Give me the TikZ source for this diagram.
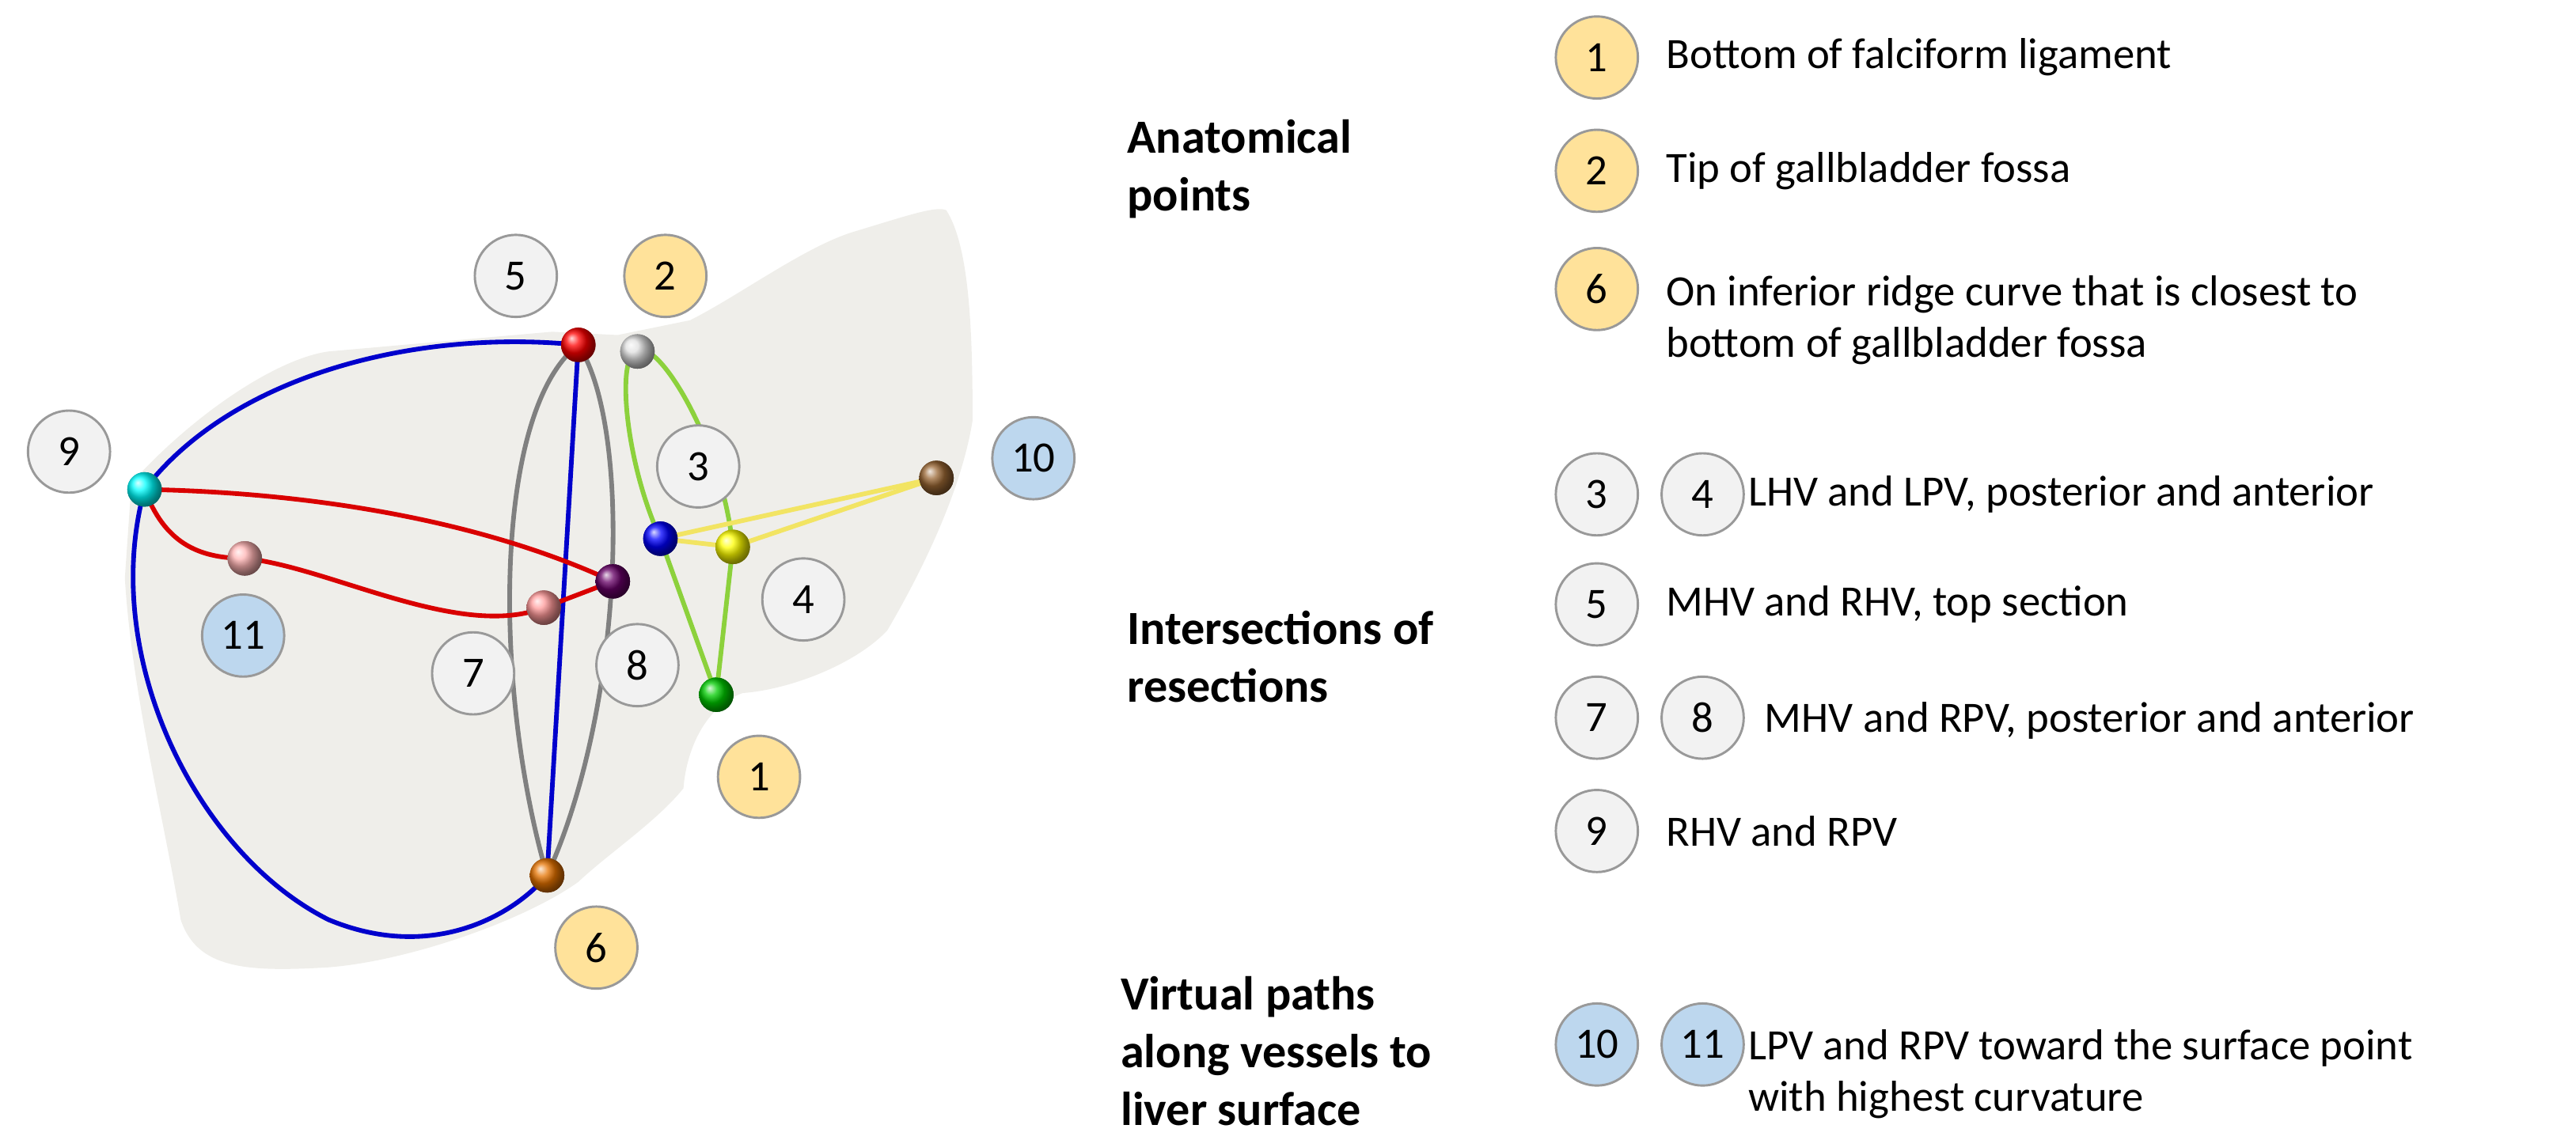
\documentclass[tikz,border=0pt]{standalone}
\usepackage{fontspec}
\setmainfont{Carlito}
\usetikzlibrary{positioning}
\definecolor{lblgray}{HTML}{F2F2F2}
\definecolor{lblyellow}{HTML}{FFE29A}
\definecolor{lblblue}{HTML}{BDD7EE}
\definecolor{liverfill}{HTML}{EFEEEA}
\definecolor{greenline}{HTML}{8CD13C}
\definecolor{yellowline}{HTML}{F2E463}
\tikzset{
    num/.style={circle, draw=gray!80, line width=0.8pt, inner sep=0pt, minimum size=1cm, font=\fontsize{15}{15}\selectfont},
    anat/.style={num, fill=lblyellow},
    inter/.style={num, fill=lblgray},
    virt/.style={num, fill=lblblue},
    ball/.style={circle, inner sep=0pt, minimum size=0.42cm, ball color=#1},
    desc/.style={anchor=west, align=left, font=\fontsize{15}{18}\selectfont},
    head/.style={anchor=west, align=left, font=\fontsize{16.5}{20}\selectfont\bfseries},
    path/.style={line width=1.6pt, line cap=round}
}
\begin{document}
\begin{tikzpicture}[x=0.02cm, y=-0.02cm]
    \useasboundingbox (0,0) rectangle (1568,694);

    % liver surface
    \fill[liverfill] (80,294) .. controls (120,250) and (170,218) .. (200,214)
        -- (336,202) -- (376,204) -- (420,195) .. controls (450,180) and (490,150) .. (520,141)
        .. controls (550,132) and (570,125) .. (576,128) .. controls (590,150) and (592,200) .. (592,256)
        .. controls (585,300) and (560,350) .. (540,384) .. controls (520,405) and (480,420) .. (452,422)
        .. controls (430,430) and (418,455) .. (416,480) .. controls (400,500) and (370,520) .. (352,537)
        .. controls (320,560) and (250,585) .. (200,589) .. controls (150,592) and (120,590) .. (110,560)
        .. controls (100,500) and (80,420) .. (76,352) -- cycle;

    % anatomical and intersection points
    \node[ball=red] (p5) at (352,210) {};
    \node[ball=gray!25] (p2) at (388,214) {};
    \node[ball=cyan] (p9) at (88,298) {};
    \node[ball=brown!80!black] (p10) at (570,291) {};
    \node[ball=blue] (p3) at (402,328) {};
    \node[ball=yellow] (p4) at (446,333) {};
    \node[ball=violet!80!black] (p8) at (373,354) {};
    \node[ball=red!30] (p11) at (149,340) {};
    \node[ball=red!40] (p7) at (331,370) {};
    \node[ball=green!80!black] (p1) at (436,423) {};
    \node[ball=orange!90!black] (p6) at (333,533) {};

    % resection curves
    \draw[path, gray] (p5.center) .. controls (300,250) and (300,420) .. (p6.center);
    \draw[path, gray] (p5.center) .. controls (385,260) and (380,430) .. (p6.center);
    \draw[path, blue!80!black] (p9.center) .. controls (140,230) and (250,200) .. (p5.center);
    \draw[path, blue!80!black] (p9.center) .. controls (60,400) and (120,520) .. (200,560)
        .. controls (260,585) and (310,560) .. (p6.center);
    \draw[path, blue!80!black] (p5.center) -- (p6.center);
    \draw[path, red!85!black] (p9.center) .. controls (200,300) and (300,320) .. (p8.center);
    \draw[path, red!85!black] (p9.center) .. controls (100,330) and (120,340) .. (p11.center)
        .. controls (200,345) and (280,390) .. (p7.center) -- (p8.center);
    \draw[path, greenline] (p2.center) .. controls (375,215) and (380,280) .. (p3.center) -- (p1.center);
    \draw[path, greenline] (p2.center) .. controls (400,205) and (440,270) .. (p4.center) -- (p1.center);
    \draw[path, yellowline] (p3.center) -- (p10.center);
    \draw[path, yellowline] (p4.center) -- (p10.center);
    \draw[path, yellowline] (p3.center) -- (p4.center);
    \foreach \p in {p5,p2,p9,p10,p3,p4,p8,p11,p7,p1,p6}
        \node[ball=white, opacity=0] at (\p) {};
    \node[ball=red] at (p5) {};
    \node[ball=gray!25] at (p2) {};
    \node[ball=cyan] at (p9) {};
    \node[ball=brown!80!black] at (p10) {};
    \node[ball=blue] at (p3) {};
    \node[ball=yellow] at (p4) {};
    \node[ball=violet!80!black] at (p8) {};
    \node[ball=red!30] at (p11) {};
    \node[ball=red!40] at (p7) {};
    \node[ball=green!80!black] at (p1) {};
    \node[ball=orange!90!black] at (p6) {};

    % labels on the liver
    \node[inter] (l5) at (314,168) {5};
    \node[anat] (l2) at (405,168) {2};
    \node[inter] (l9) at (42,275) {9};
    \node[inter] (l3) at (425,284) {3};
    \node[virt] (l10) at (629,279) {10};
    \node[inter] (l4) at (489,365) {4};
    \node[virt] (l11) at (148,387) {11};
    \node[inter] (l7) at (288,410) {7};
    \node[inter] (l8) at (388,405) {8};
    \node[anat] (l1) at (462,473) {1};
    \node[anat] (l6) at (363,577) {6};

    % legend
    \node[head] (hanat) at (680,103) {Anatomical\\points};
    \node[head] (hinter) at (680,400) {Intersections of\\resections};
    \node[head] (hvirt) at (676,640) {Virtual paths\\along vessels to\\liver surface};

    \node[anat] (k1) at (972,35) {1};
    \node[desc] at (1008,35) {Bottom of falciform ligament};
    \node[anat] (k2) at (972,104) {2};
    \node[desc] at (1008,104) {Tip of gallbladder fossa};
    \node[anat] (k6) at (972,176) {6};
    \node[desc] at (1008,195) {On inferior ridge curve that is closest to\\bottom of gallbladder fossa};

    \node[inter] (k3) at (972,301) {3};
    \node[inter, right=0.26cm of k3] (k4) {4};
    \node[desc] at (1058,301) {LHV and LPV, posterior and anterior};
    \node[inter] (k5) at (972,368) {5};
    \node[desc] at (1008,368) {MHV and RHV, top section};
    \node[inter] (k7) at (972,437) {7};
    \node[inter, right=0.26cm of k7] (k8) {8};
    \node[desc] at (1068,439) {MHV and RPV, posterior and anterior};
    \node[inter] (k9) at (972,506) {9};
    \node[desc] at (1008,506) {RHV and RPV};

    \node[virt] (k10) at (972,636) {10};
    \node[virt, right=0.26cm of k10] (k11) {11};
    \node[desc] at (1058,654) {LPV and RPV toward the surface point\\with highest curvature};
\end{tikzpicture}
\end{document}
